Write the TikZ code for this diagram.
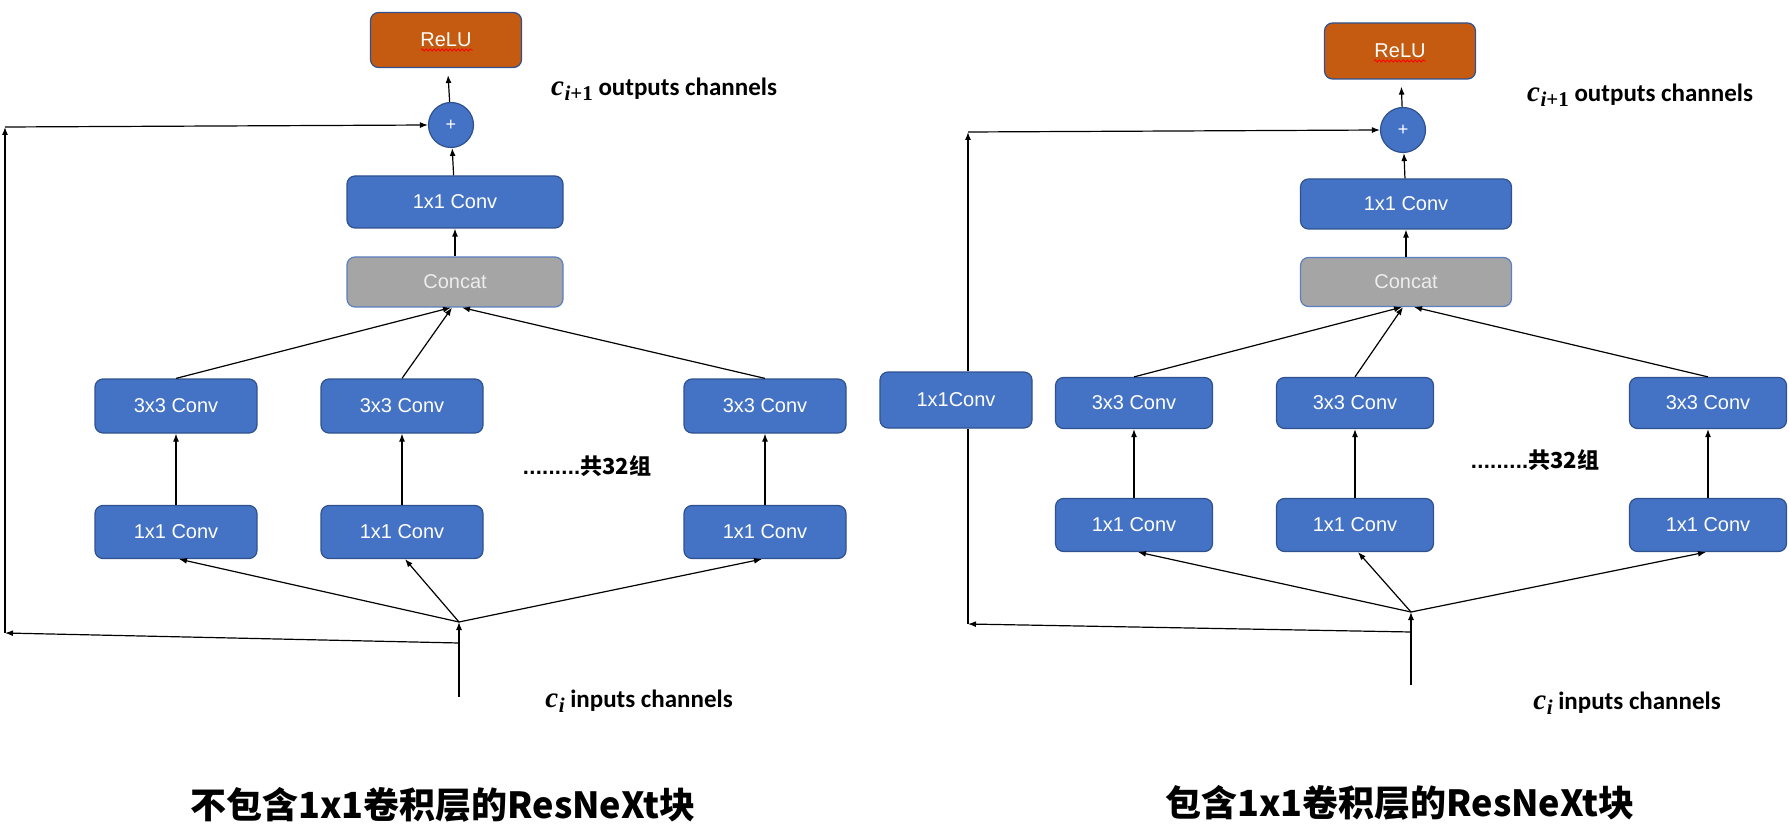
\documentclass[tikz,border=0pt]{standalone}
\usepackage{fontspec}
\setmainfont{Liberation Sans}
\newfontfamily\labelfont{Carlito}
\newfontfamily\mathlike{Liberation Serif}
\newfontfamily\cjk{Noto Sans CJK SC}
\usetikzlibrary{arrows.meta,decorations.pathmorphing}

\definecolor{convblue}{HTML}{4472C4}
\definecolor{convedge}{HTML}{2F528F}
\definecolor{reluorange}{HTML}{C55A11}
\definecolor{concatgray}{HTML}{A5A5A5}
\definecolor{concatedge}{HTML}{5B7FBF}

\newcommand{\groupdots}{\leaders\hbox to 3.2pt{\hss.\hss}\hskip 28.8pt}
\newcommand{\chvar}[2]{{\mathlike\bfseries\itshape\fontsize{14.5}{14}\selectfont #1}\kern0.3pt\raisebox{-2.6pt}{\mathlike\bfseries\fontsize{10.5}{10}\selectfont #2}}

\tikzset{
  conv/.style={draw=convedge,fill=convblue,rounded corners=4pt,text=white,
    line width=0.6pt,inner sep=0pt,font=\fontsize{10}{12}\selectfont},
  relubox/.style={conv,fill=reluorange,minimum width=75.5pt,minimum height=27.5pt},
  concatbox/.style={conv,draw=concatedge,fill=concatgray,text=black!7},
  plusnode/.style={circle,draw=convedge,fill=convblue,text=white,line width=0.6pt,
    inner sep=0pt,minimum size=22.5pt,font=\fontsize{9}{10}\selectfont},
  arr/.style={-{Latex[length=4pt,width=3pt]},line width=0.6pt},
  link/.style={line width=0.6pt},
  chlabel/.style={font=\labelfont\bfseries\fontsize{12.5}{14}\selectfont,inner sep=0pt},
  grouplabel/.style={font=\bfseries\fontsize{11}{13}\selectfont,inner sep=0pt},
  caption/.style={font=\cjk\bfseries\fontsize{18}{22}\selectfont,inner sep=0pt},
  spell/.style={red,line width=0.4pt,decorate,
    decoration={snake,amplitude=0.5pt,segment length=2pt}}
}

\begin{document}
\begin{tikzpicture}[x=0.5pt,y=-0.5pt]
\useasboundingbox (0,0) rectangle (1789,834);

% left block: without 1x1 shortcut conv
\node[relubox] (lrelu) at (446,40) {ReLU};
\draw[spell] (421,50) -- (473,50);
\node[plusnode] (lplus) at (451,125) {+};
\node[conv,minimum width=108pt,minimum height=26pt] (ltop) at (455,202) {1x1 Conv};
\node[concatbox,minimum width=108pt,minimum height=25pt] (lconcat) at (455,282) {Concat};
\node[conv,minimum width=81pt,minimum height=27pt] (lA3) at (176,406) {3x3 Conv};
\node[conv,minimum width=81pt,minimum height=27pt] (lB3) at (402,406) {3x3 Conv};
\node[conv,minimum width=81pt,minimum height=27pt] (lC3) at (765,406) {3x3 Conv};
\node[conv,minimum width=81pt,minimum height=26.5pt] (lA1) at (176,532) {1x1 Conv};
\node[conv,minimum width=81pt,minimum height=26.5pt] (lB1) at (402,532) {1x1 Conv};
\node[conv,minimum width=81pt,minimum height=26.5pt] (lC1) at (765,532) {1x1 Conv};
\node[grouplabel] (lgroup) at (587,466) {\groupdots{\cjk 共32组}};
\node[chlabel] (lout) at (664,89) {\chvar{c}{\itshape i\upshape +1} outputs channels};
\node[chlabel] (lin) at (639,701) {\chvar{c}{\itshape i} inputs channels};
\node[caption] (lcap) at (443,805) {不包含1x1卷积层的ResNeXt块};
\coordinate (lsplit) at (459,622);
\coordinate (linput) at (459,697);
\coordinate (lbranch) at (459,643);
\coordinate (lcornerB) at (5,633);
\coordinate (lcornerT) at (5,127);

\draw[arr,shorten >=3.5pt] (lplus) -- (lrelu);
\draw[arr] (ltop) -- (lplus);
\draw[arr] (lconcat) -- (ltop);
\draw[arr] (lA3.north) -- ([xshift=-2pt]lconcat.south);
\draw[arr] (lB3.north) -- ([xshift=-1.5pt]lconcat.south);
\draw[arr] (lC3.north) -- ([xshift=3.5pt]lconcat.south);
\foreach \n in {A,B,C}
  \draw[arr] (l\n1) -- (l\n3);
\draw[arr] (lsplit) -- ([xshift=1.5pt]lA1.south);
\draw[arr] (lsplit) -- ([xshift=1.5pt]lB1.south);
\draw[arr] (lsplit) -- ([xshift=-1.5pt]lC1.south);
\draw[arr] (linput) -- (lsplit);
\draw[arr] (lbranch) -- (lcornerB);
\draw[arr] (lcornerB) -- (lcornerT);
\draw[arr] (lcornerT) -- (lplus.west);

% right block: with 1x1 shortcut conv
\node[relubox,minimum height=28pt] (rrelu) at (1400,51) {ReLU};
\draw[spell] (1374,61) -- (1426,61);
\node[plusnode] (rplus) at (1403,130) {+};
\node[conv,minimum width=105.5pt,minimum height=25pt] (rtop) at (1406,204) {1x1 Conv};
\node[concatbox,minimum width=105.5pt,minimum height=24.5pt] (rconcat) at (1406,282) {Concat};
\node[conv,minimum width=76pt,minimum height=28pt] (rside) at (956,400) {1x1Conv};
\node[conv,minimum width=78.5pt,minimum height=25.5pt] (rA3) at (1134,403) {3x3 Conv};
\node[conv,minimum width=78.5pt,minimum height=25.5pt] (rB3) at (1355,403) {3x3 Conv};
\node[conv,minimum width=78.5pt,minimum height=25.5pt] (rC3) at (1708,403) {3x3 Conv};
\node[conv,minimum width=78.5pt,minimum height=26.5pt] (rA1) at (1134,525) {1x1 Conv};
\node[conv,minimum width=78.5pt,minimum height=26.5pt] (rB1) at (1355,525) {1x1 Conv};
\node[conv,minimum width=78.5pt,minimum height=26.5pt] (rC1) at (1708,525) {1x1 Conv};
\node[grouplabel] (rgroup) at (1535,460) {\groupdots{\cjk 共32组}};
\node[chlabel] (rout) at (1640,95) {\chvar{c}{\itshape i\upshape +1} outputs channels};
\node[chlabel] (rin) at (1627,703) {\chvar{c}{\itshape i} inputs channels};
\node[caption] (rcap) at (1400,803) {包含1x1卷积层的ResNeXt块};
\coordinate (rsplit) at (1411,612);
\coordinate (rinput) at (1411,685);
\coordinate (rbranch) at (1411,632);
\coordinate (rcornerB) at (968,624);
\coordinate (rcornerT) at (968,132);

\draw[arr,shorten >=3.5pt] (rplus) -- (rrelu);
\draw[arr] (rtop) -- (rplus);
\draw[arr] (rconcat) -- (rtop);
\draw[arr] (rA3.north) -- ([xshift=-2pt]rconcat.south);
\draw[arr] (rB3.north) -- ([xshift=-1.5pt]rconcat.south);
\draw[arr] (rC3.north) -- ([xshift=4pt]rconcat.south);
\foreach \n in {A,B,C}
  \draw[arr] (r\n1) -- (r\n3);
\draw[arr] (rsplit) -- ([xshift=2pt]rA1.south);
\draw[arr] (rsplit) -- ([xshift=1.5pt]rB1.south);
\draw[arr] (rsplit) -- ([xshift=-1pt]rC1.south);
\draw[arr] (rinput) -- (rsplit);
\draw[arr] (rbranch) -- (rcornerB);
\draw[link] (rcornerB) -- (rcornerB |- rside.south);
\draw[arr] (rcornerT |- rside.north) -- (rcornerT);
\draw[arr] (rcornerT) -- (rplus.west);
\end{tikzpicture}
\end{document}
